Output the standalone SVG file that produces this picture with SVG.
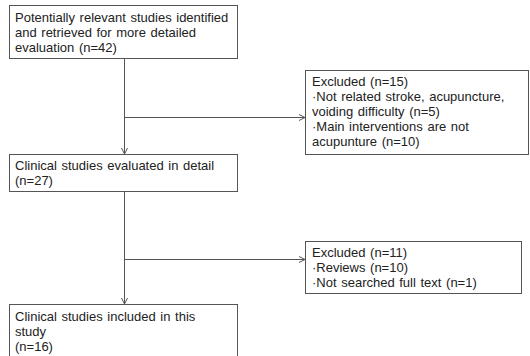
<svg xmlns="http://www.w3.org/2000/svg" width="530" height="356" viewBox="0 0 530 356">
<style>
.box{fill:#fff;stroke:#555;stroke-width:1}
.t{font-family:"Liberation Sans",Arial,sans-serif;font-size:13px;word-spacing:1px;fill:#222}
.c{fill:none;stroke:#555;stroke-width:1}
</style>
<defs>
<marker id="ah" markerWidth="8" markerHeight="8" refX="7" refY="4" orient="auto" markerUnits="userSpaceOnUse">
<path d="M1,1 L7,4 L1,7" fill="none" stroke="#555" stroke-width="1"/>
</marker>
</defs>
<rect width="530" height="356" fill="#fff"/>
<g id="connectors">
<line class="c" x1="124.5" y1="59" x2="124.5" y2="154" marker-end="url(#ah)"/>
<line class="c" x1="124.5" y1="117.5" x2="305" y2="117.5" marker-end="url(#ah)"/>
<line class="c" x1="124.5" y1="191" x2="124.5" y2="304" marker-end="url(#ah)"/>
<line class="c" x1="124.5" y1="259.5" x2="305" y2="259.5" marker-end="url(#ah)"/>
</g>
<g id="n1">
<rect class="box" x="9.5" y="5.5" width="228" height="53"/>
<text class="t" x="15" y="22">Potentially relevant studies identified</text>
<text class="t" x="15" y="37">and retrieved for more detailed</text>
<text class="t" x="15" y="52">evaluation (n=42)</text>
</g>
<g id="n2">
<rect class="box" x="305.5" y="70.5" width="223" height="84"/>
<text class="t" x="312" y="86">Excluded (n=15)</text>
<text class="t" x="312" y="101">·Not related stroke, acupuncture,</text>
<text class="t" x="312" y="116">voiding difficulty (n=5)</text>
<text class="t" x="312" y="131">·Main interventions are not</text>
<text class="t" x="312" y="146">acupunture (n=10)</text>
</g>
<g id="n3">
<rect class="box" x="9.5" y="154.5" width="228" height="37"/>
<text class="t" x="15" y="170">Clinical studies evaluated in detail</text>
<text class="t" x="15" y="185">(n=27)</text>
</g>
<g id="n4">
<rect class="box" x="305.5" y="241.5" width="216" height="52"/>
<text class="t" x="312" y="257">Excluded (n=11)</text>
<text class="t" x="312" y="272">·Reviews (n=10)</text>
<text class="t" x="312" y="287">·Not searched full text (n=1)</text>
</g>
<g id="n5">
<rect class="box" x="9.5" y="304.5" width="228" height="54"/>
<text class="t" x="15" y="321">Clinical studies included in this</text>
<text class="t" x="15" y="336">study</text>
<text class="t" x="15" y="351">(n=16)</text>
</g>
</svg>
